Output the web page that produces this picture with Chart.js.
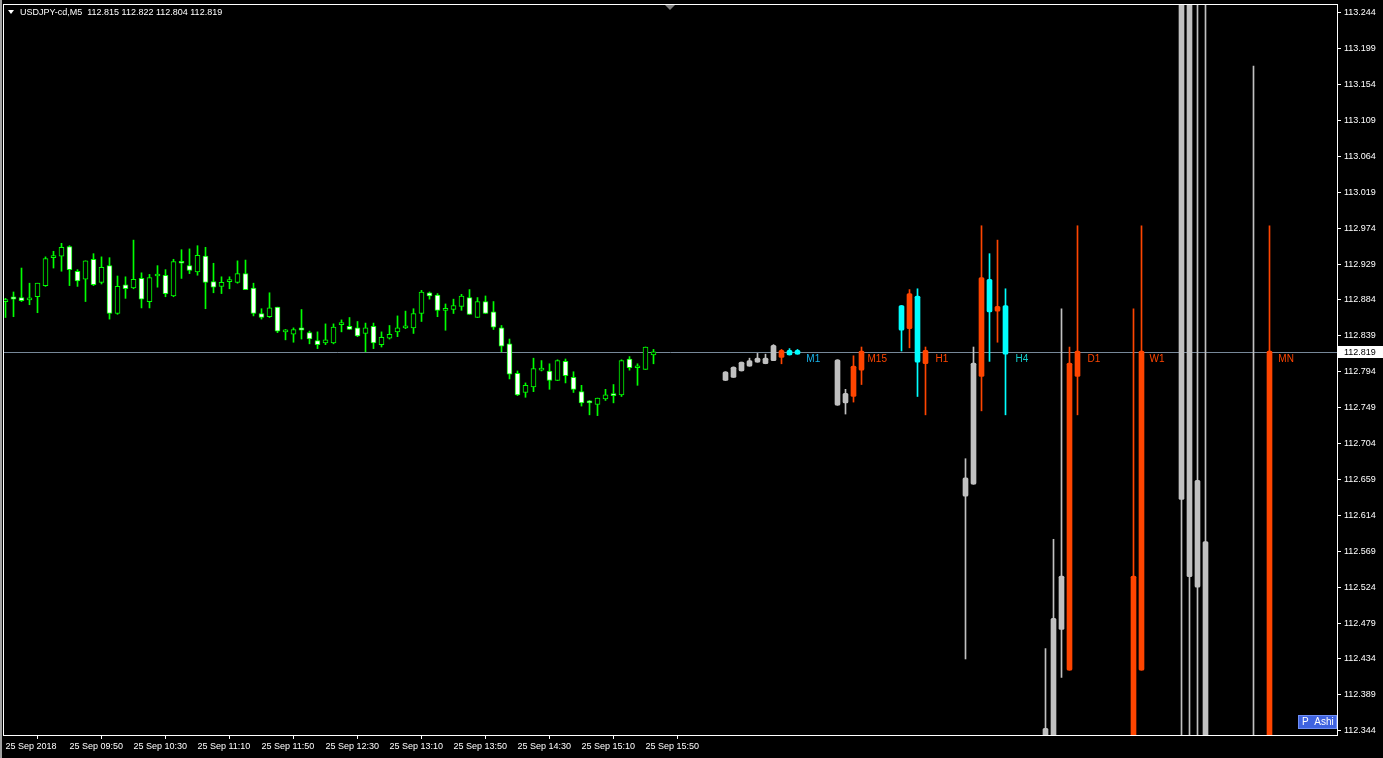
<!DOCTYPE html>
<html>
<head>
<meta charset="utf-8">
<script src="https://cdn.jsdelivr.net/npm/chart.js@4.4.0/dist/chart.umd.min.js"></script>
<style>
html, body { margin: 0; padding: 0; background: #000; overflow: hidden; }
#wrap { position: relative; width: 1383px; height: 758px; }
</style>
</head>
<body>
<div id="wrap"><canvas id="chart"></canvas></div>
<script>
// USDJPY-cd, M5 candles (bar index 0 = first visible bar)
const openArr = [112.882,112.888,112.887,112.884,112.888,112.902,112.937,112.939,112.951,112.920,
  112.910,112.935,112.906,112.927,112.867,112.903,112.899,112.911,112.882,112.914,
  112.915,112.889,112.932,112.927,112.919,112.939,112.907,112.901,112.907,112.906,
  112.917,112.899,112.867,112.863,112.875,112.844,112.841,112.849,112.843,112.833,
  112.830,112.830,112.853,112.851,112.849,112.842,112.851,112.828,112.836,112.844,
  112.849,112.849,112.867,112.893,112.890,112.871,112.872,112.876,112.887,112.862,
  112.882,112.869,112.849,112.829,112.792,112.768,112.775,112.796,112.795,112.783,
  112.807,112.787,112.769,112.757,112.753,112.760,112.766,112.765,112.810,112.799,
  112.797,112.815];
const highArr = [112.886,112.894,112.924,112.905,112.905,112.938,112.945,112.955,112.952,112.922,
  112.933,112.942,112.938,112.937,112.914,112.913,112.959,112.918,112.916,112.927,
  112.922,112.935,112.947,112.948,112.952,112.950,112.930,112.913,112.913,112.933,
  112.934,112.905,112.873,112.893,112.875,112.847,112.849,112.872,112.845,112.844,
  112.854,112.854,112.859,112.862,112.857,112.855,112.855,112.844,112.852,112.864,
  112.870,112.873,112.896,112.894,112.892,112.879,112.885,112.891,112.897,112.887,
  112.889,112.882,112.852,112.835,112.795,112.780,112.811,112.808,112.804,112.809,
  112.810,112.794,112.777,112.758,112.761,112.772,112.778,112.809,112.813,112.804,
  112.825,112.822];
const lowArr = [112.862,112.863,112.882,112.878,112.868,112.901,112.924,112.920,112.902,112.901,
  112.882,112.902,112.904,112.860,112.866,112.886,112.898,112.874,112.874,112.900,
  112.888,112.888,112.911,112.917,112.915,112.873,112.893,112.892,112.898,112.905,
  112.897,112.864,112.860,112.862,112.843,112.834,112.831,112.835,112.829,112.823,
  112.828,112.829,112.844,112.847,112.838,112.819,112.823,112.825,112.835,112.838,
  112.848,112.842,112.857,112.885,112.863,112.846,112.867,112.871,112.866,112.862,
  112.867,112.847,112.819,112.785,112.764,112.762,112.769,112.795,112.772,112.783,
  112.780,112.768,112.751,112.740,112.739,112.758,112.755,112.763,112.796,112.777,
  112.797,112.804];
const closeArr = [112.883,112.885,112.883,112.885,112.905,112.936,112.938,112.950,112.922,112.908,
  112.933,112.903,112.925,112.867,112.901,112.898,112.910,112.885,112.912,112.916,
  112.892,112.932,112.930,112.921,112.940,112.906,112.900,112.906,112.908,112.917,
  112.897,112.867,112.862,112.874,112.845,112.844,112.847,112.846,112.835,112.828,
  112.834,112.850,112.853,112.847,112.839,112.849,112.830,112.837,112.841,112.849,
  112.849,112.867,112.894,112.889,112.871,112.871,112.877,112.889,112.866,112.882,
  112.867,112.850,112.826,112.791,112.765,112.777,112.798,112.796,112.783,112.808,
  112.789,112.772,112.755,112.755,112.761,112.765,112.764,112.808,112.799,112.799,
  112.825,112.819];

// multi-timeframe candles drawn in the shifted area (g = old, o = up, c = down)
const tfIndex = [90,91,92,93,94,95,96,97,98,99, 104,105,106,107, 112,113,114,115,
  120,121,122,123,124,125, 130,131,132,133,134, 141,142, 147,148,149,150, 156, 158];
const tfOpen  = [112.783,112.787,112.795,112.801,112.806,112.804,112.808,112.812,112.821,112.821,
  112.809,112.755,112.763,112.796, 112.877,112.848,112.889,112.804,
  112.638,112.653,112.788,112.910,112.870,112.877, 112.347,112.485,112.471,112.420,112.788,
  112.300,112.420, 113.300,113.300,112.658,112.581, 112.250, 112.200];
const tfHigh  = [112.794,112.800,112.806,112.811,112.817,112.816,112.828,112.822,112.823,112.822,
  112.809,112.772,112.814,112.825, 112.877,112.897,112.898,112.825,
  112.685,112.825,112.977,112.942,112.959,112.898, 112.447,112.584,112.873,112.825,112.977,
  112.873,112.977, 113.350,113.350,113.350,113.350, 113.177, 112.977];
const tfLow   = [112.783,112.787,112.795,112.801,112.806,112.804,112.808,112.804,112.815,112.816,
  112.752,112.741,112.756,112.778, 112.820,112.824,112.763,112.740,
  112.434,112.653,112.745,112.807,112.831,112.740, 112.300,112.300,112.411,112.420,112.740,
  112.300,112.420, 112.300,112.300,112.300,112.250, 112.200, 112.150];
const tfClose = [112.794,112.800,112.806,112.808,112.811,112.811,112.827,112.821,112.815,112.816,
  112.752,112.767,112.801,112.820, 112.846,112.892,112.806,112.821,
  112.661,112.805,112.912,112.869,112.876,112.816, 112.320,112.320,112.538,112.805,112.820,
  112.538,112.820, 112.634,112.537,112.524,112.300, 112.220, 112.820];
const tfKind  = ['g','g','g','g','g','g','g','o','c','c', 'g','g','o','o', 'c','o','c','o',
  'g','g','o','c','o','c', 'g','g','g','o','o', 'o','o', 'g','g','g','g', 'g', 'o'];

const tfLabelNames = ['M1','M15','H1','H4','D1','W1','MN'];
const tfLabelPos   = [100.1, 107.75, 116.25, 126.25, 135.25, 143, 159.1];
const tfLabelKind  = ['m1','o','o','h4','o','o','o'];

const xTickIdx = [0,8,16,24,32,40,48,56,64,72,80];
const xTickLabels = ['25 Sep 2018','25 Sep 09:50','25 Sep 10:30','25 Sep 11:10','25 Sep 11:50',
  '25 Sep 12:30','25 Sep 13:10','25 Sep 13:50','25 Sep 14:30','25 Sep 15:10','25 Sep 15:50'];
const yTickValues = [112.344,112.389,112.434,112.479,112.524,112.569,112.614,112.659,112.704,112.749,
  112.794,112.839,112.884,112.929,112.974,113.019,113.064,113.109,113.154,113.199,113.244];

const symbolTitle = 'USDJPY-cd,M5  112.815 112.822 112.804 112.819';
const lastClose = 112.819;

const kindColor = { g: '#C0C0C0', o: '#FF4500', c: '#00FFFF', m1: '#18B4EC', h4: '#14CCCC' };
const FONT = '"Liberation Sans", Arial, sans-serif';

const mainBodies = openArr.map((o, i) => ({ x: i, y: [o, closeArr[i]] }));
const mainWicks = openArr.map((o, i) => ({ x: i, y: [lowArr[i], highArr[i]] }));
const tfBodies = tfIndex.map((x, i) => ({ x: x, y: [tfOpen[i], tfClose[i]] }));
const tfWicks = tfIndex.map((x, i) => ({ x: x, y: [tfLow[i], tfHigh[i]] }));

// frame, price line, labels and the MT4 bits around the plot
const overlay = {
  id: 'overlay',
  beforeDatasetsDraw(chart) {
    const { ctx, chartArea: a, scales: { y } } = chart;
    const py = Math.round(y.getPixelForValue(lastClose)) + 0.5;
    ctx.save();
    ctx.strokeStyle = '#778899';
    ctx.lineWidth = 1;
    ctx.beginPath();
    ctx.moveTo(a.left, py);
    ctx.lineTo(a.right, py);
    ctx.stroke();
    ctx.restore();
  },
  afterDraw(chart) {
    const { ctx, chartArea: a, scales: { x, y } } = chart;
    const py = Math.round(y.getPixelForValue(lastClose));
    ctx.save();

    // window edge + chart frame
    ctx.fillStyle = '#A0A0A0';
    ctx.fillRect(0, 0, 2, 758);
    ctx.strokeStyle = '#FFFFFF';
    ctx.lineWidth = 1;
    ctx.strokeRect(a.left - 0.5, a.top - 0.5, a.right - a.left + 1, a.bottom - a.top + 1);

    // timeframe labels
    ctx.font = '10px ' + FONT;
    ctx.textBaseline = 'middle';
    ctx.textAlign = 'left';
    tfLabelNames.forEach((name, i) => {
      ctx.fillStyle = kindColor[tfLabelKind[i]];
      ctx.fillText(name, x.getPixelForValue(tfLabelPos[i]), py + 7);
    });

    // current price box on the axis
    ctx.fillStyle = '#FFFFFF';
    ctx.fillRect(a.right + 1, py - 6, 46, 12);
    ctx.fillStyle = '#000000';
    ctx.font = '9px ' + FONT;
    ctx.fillText(lastClose.toFixed(3), a.right + 7, py + 0.5);

    // title
    ctx.fillStyle = '#FFFFFF';
    ctx.beginPath();
    ctx.moveTo(8, 10); ctx.lineTo(14, 10); ctx.lineTo(11, 14); ctx.closePath();
    ctx.fill();
    ctx.font = '9px ' + FONT;
    ctx.fillText(symbolTitle, 20, 13);

    // chart shift marker
    ctx.fillStyle = '#808080';
    ctx.beginPath();
    ctx.moveTo(665, a.top); ctx.lineTo(675, a.top); ctx.lineTo(670, a.top + 5); ctx.closePath();
    ctx.fill();

    // P Ashi button
    ctx.fillStyle = '#3F63E0';
    ctx.fillRect(1298, 715, 39, 14);
    ctx.strokeStyle = '#6E8EF5';
    ctx.strokeRect(1298.5, 715.5, 38, 13);
    ctx.fillStyle = '#FFFFFF';
    ctx.font = '10px ' + FONT;
    ctx.fillText('P  Ashi', 1302, 722.5);

    ctx.restore();
  }
};

const ctx = document.getElementById('chart').getContext('2d');
const chart = new Chart(ctx, {
  type: 'bar',
  data: {
    datasets: [
      {
        label: 'bodies',
        data: mainBodies,
        backgroundColor: closeArr.map((c, i) => c < openArr[i] ? '#FFFFFF' : '#000000'),
        borderColor: '#00FF00',
        borderWidth: 1,
        borderSkipped: false,
        barThickness: 5,
        minBarLength: 2,
        grouped: false,
        clip: 0,
        order: 0
      },
      {
        label: 'tf bodies',
        data: tfBodies,
        backgroundColor: tfKind.map(k => kindColor[k]),
        borderWidth: 0,
        borderSkipped: false,
        borderRadius: 1.5,
        barThickness: 5,
        minBarLength: 2,
        grouped: false,
        clip: 0,
        order: 0
      },
      {
        label: 'wicks',
        data: mainWicks,
        backgroundColor: '#00FF00',
        borderWidth: 0,
        barThickness: 1,
        grouped: false,
        clip: 0,
        order: 1
      },
      {
        label: 'tf wicks',
        data: tfWicks,
        backgroundColor: tfKind.map(k => kindColor[k]),
        borderWidth: 0,
        barThickness: 1,
        grouped: false,
        clip: 0,
        order: 1
      }
    ]
  },
  options: {
    responsive: true,
    maintainAspectRatio: false,
    animation: false,
    layout: { padding: { top: 5, left: 4, right: 0, bottom: 0 } },
    plugins: { legend: { display: false }, tooltip: { enabled: false } },
    scales: {
      x: {
        type: 'linear',
        offset: false,
        min: -0.1875,
        max: 166.4375,
        afterFit(s) {
          s.height = 23;
          s.paddingLeft = 0; s.paddingRight = 0;
        },
        afterBuildTicks(s) { s.ticks = xTickIdx.map(v => ({ value: v })); },
        grid: { drawOnChartArea: false, tickLength: 4, tickColor: '#FFFFFF' },
        border: { display: false },
        ticks: {
          color: '#FFFFFF',
          font: { family: FONT, size: 9 },
          align: 'start',
          maxRotation: 0,
          autoSkip: false,
          padding: 2,
          callback: (v, i) => xTickLabels[i]
        }
      },
      y: {
        position: 'right',
        min: 112.3387,
        max: 113.2537,
        afterFit(s) {
          s.width = 46;
          s.paddingTop = 0; s.paddingBottom = 0;
        },
        afterBuildTicks(s) { s.ticks = yTickValues.map(v => ({ value: v })); },
        grid: { drawOnChartArea: false, tickLength: 4, tickColor: '#FFFFFF' },
        border: { display: false },
        ticks: {
          color: '#FFFFFF',
          font: { family: FONT, size: 9 },
          padding: 3,
          autoSkip: false,
          callback: v => Number(v).toFixed(3)
        }
      }
    }
  },
  plugins: [overlay]
});
</script>
</body>
</html>
